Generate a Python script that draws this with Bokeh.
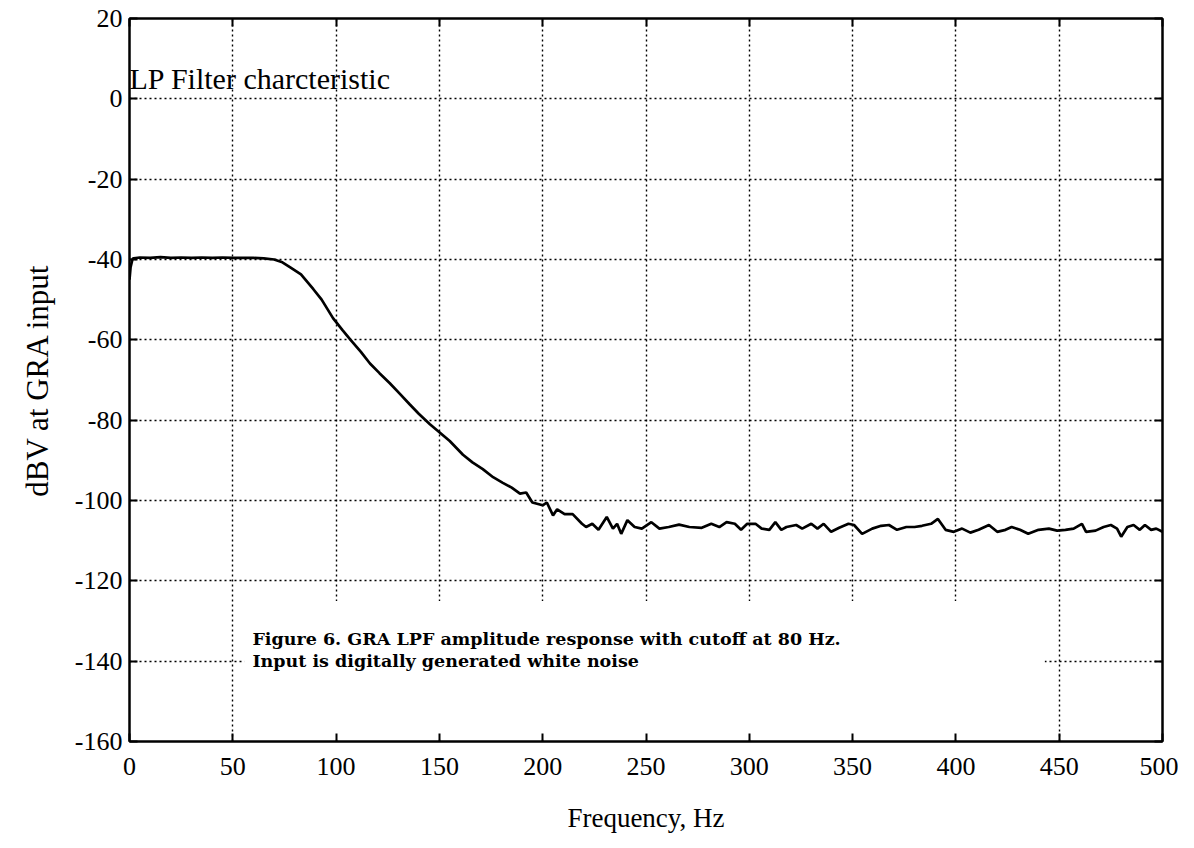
from bokeh.plotting import figure
from bokeh.models import Range1d, FixedTicker, LinearAxis, Label, BoxAnnotation
from bokeh.embed import file_html
from bokeh.resources import INLINE

# ---- data ----
freq_hz = [0, 0.5, 1.5, 2, 5, 10, 15, 20, 25, 30, 35, 40, 45, 50, 55, 60, 65, 70,
           74, 78, 83, 89, 93, 98.5, 103, 107, 112, 116.4, 121, 126, 131, 135.7,
           140, 145.4, 150, 155, 161.4, 166, 171, 176, 180.7, 185, 189, 192, 195,
           200, 202, 205, 207, 210.6, 214.5, 219, 221, 224, 227, 231, 234, 236,
           238, 241, 244.5, 248, 252.6, 256.5, 261, 266, 271, 277, 281.6, 285.5,
           289, 293, 296, 299, 303, 306, 309.7, 312.6, 315.5, 318, 322.7, 325.6,
           330, 333, 336, 339.6, 343.5, 348, 350.7, 354.6, 359.5, 363.8, 367.6,
           371.5, 376, 380, 383.6, 388, 391.3, 395, 399, 403, 407, 411, 416, 420,
           424, 427, 431, 435, 440, 445, 449, 453, 457, 461, 463, 467.6, 471.5,
           475, 478, 480, 483, 486, 489, 491.5, 494.5, 497, 500]
level_dbv = [-45, -42, -39.8, -39.7, -39.5, -39.6, -39.4, -39.6, -39.5, -39.6,
             -39.5, -39.6, -39.5, -39.6, -39.6, -39.6, -39.7, -40.0,
             -40.7, -42.0, -43.7, -47.4, -50.0, -54.6, -57.5, -60.0, -63.0, -65.9,
             -68.3, -70.8, -73.5, -76.1, -78.4, -81.0, -83.0, -85.2, -88.6, -90.5,
             -92.2, -94.2, -95.6, -96.8, -98.3, -98.0, -100.5, -101.2, -100.5,
             -103.7, -102.2, -103.4, -103.4, -105.8, -106.6, -105.8, -107.3,
             -104.1, -107.0, -105.8, -108.3, -104.9, -106.6, -107.0, -105.4,
             -107.0, -106.6, -106.0, -106.6, -106.8, -105.8, -106.6, -105.4,
             -105.8, -107.3, -105.8, -105.8, -107.0, -107.3, -105.4, -107.3,
             -106.6, -106.1, -107.0, -105.8, -107.0, -105.8, -107.8, -106.8,
             -105.8, -106.1, -108.3, -107.0, -106.3, -106.1, -107.3, -106.6,
             -106.6, -106.3, -105.8, -104.6, -107.3, -107.8, -107.0, -108.0,
             -107.3, -106.1, -107.8, -107.3, -106.6, -107.3, -108.3, -107.3,
             -107.0, -107.5, -107.3, -107.0, -105.8, -107.8, -107.5, -106.6,
             -106.1, -107.0, -109.0, -106.6, -106.1, -107.3, -106.1, -107.3,
             -107.0, -107.8]

x_ticks = [0, 50, 100, 150, 200, 250, 300, 350, 400, 450, 500]
x_tick_labels = ["0", "50", "100", "150", "200", "250", "300", "350", "400", "450", "500"]
y_ticks = [20, 0, -20, -40, -60, -80, -100, -120, -140, -160]
y_tick_labels = ["20", "0", "-20", "-40", "-60", "-80", "-100", "-120", "-140", "-160"]

x_label = "Frequency, Hz"
y_label = "dBV at GRA input"
inner_title = "LP Filter charcteristic"
caption_lines = ["Figure 6. GRA LPF amplitude response with cutoff at 80 Hz.",
                 "Input is digitally generated white noise"]

SERIF = "Liberation Serif"

p = figure(width=1178, height=840, output_backend="svg", toolbar_location=None,
           x_range=Range1d(0, 500), y_range=Range1d(-160, 20),
           min_border_left=129, min_border_right=16, min_border_top=18,
           min_border_bottom=99)
p.background_fill_color = "white"
p.border_fill_color = "white"
p.outline_line_color = "black"
p.outline_line_width = 2

def style_axis(ax, ticks, labels, show_labels):
    ax.ticker = FixedTicker(ticks=ticks)
    ax.major_tick_in = 8
    ax.major_tick_out = 0
    ax.minor_tick_in = 0
    ax.minor_tick_out = 0
    ax.major_tick_line_width = 2
    ax.major_tick_line_color = "black"
    ax.axis_line_width = 2
    ax.axis_line_color = "black"
    if show_labels:
        ax.major_label_overrides = {t: l for t, l in zip(ticks, labels)}
        ax.major_label_text_font = SERIF
        ax.major_label_text_font_size = "26px"
        ax.major_label_text_color = "black"
    else:
        ax.major_label_overrides = {t: "" for t in ticks}
        ax.major_label_standoff = 0

xa = p.xaxis[0]
style_axis(xa, x_ticks, x_tick_labels, True)
xa.major_label_standoff = 16
xa.axis_label = x_label
xa.axis_label_text_font = SERIF
xa.axis_label_text_font_size = "27px"
xa.axis_label_text_font_style = "normal"
xa.axis_label_text_color = "black"
xa.axis_label_standoff = 25

ya = p.yaxis[0]
style_axis(ya, y_ticks, y_tick_labels, True)
ya.major_label_standoff = 7
ya.axis_label = y_label
ya.axis_label_text_font = SERIF
ya.axis_label_text_font_size = "31px"
ya.axis_label_text_font_style = "normal"
ya.axis_label_text_color = "black"
ya.axis_label_standoff = 17

top_ax = LinearAxis()
style_axis(top_ax, x_ticks, x_tick_labels, False)
p.add_layout(top_ax, "above")
right_ax = LinearAxis()
style_axis(right_ax, y_ticks, y_tick_labels, False)
p.add_layout(right_ax, "right")

for g, t in ((p.xgrid[0], x_ticks), (p.ygrid[0], y_ticks)):
    g.ticker = FixedTicker(ticks=t)
    g.grid_line_color = "black"
    g.grid_line_width = 1.4
    g.grid_line_dash = "2 3"

# white box behind the caption hides the grid there
p.add_layout(BoxAnnotation(left=55.5, right=443, bottom=-159.5, top=-125,
                           fill_color="white", fill_alpha=1.0, line_alpha=0,
                           level="underlay"))

p.line(freq_hz, level_dbv, line_color="black", line_width=2.7)

p.add_layout(Label(x=0, y=5.1, text=inner_title, text_font=SERIF,
                   text_font_size="30px", text_color="black",
                   text_baseline="alphabetic"))
p.add_layout(Label(x=59.5, y=-134.4, text=caption_lines[0], text_font="DejaVu Serif",
                   text_font_size="17.5px", text_font_style="bold",
                   text_color="black", text_baseline="alphabetic"))
p.add_layout(Label(x=59.5, y=-139.9, text=caption_lines[1], text_font="DejaVu Serif",
                   text_font_size="17.5px", text_font_style="bold",
                   text_color="black", text_baseline="alphabetic"))

open("out.html", "w").write(file_html(p, INLINE))
